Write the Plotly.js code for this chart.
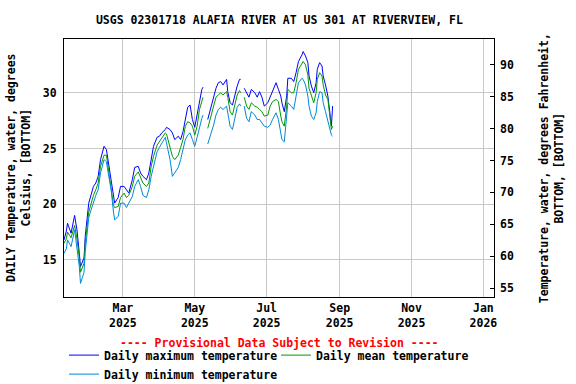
<!DOCTYPE html>
<html>
<head>
<meta charset="utf-8">
<script src="https://cdn.plot.ly/plotly-3.0.1.min.js"></script>
<style>
  body { margin: 0; background: #fff; }
  #plot { width: 576px; height: 384px; }
</style>
</head>
<body>
<div id="plot"></div>
<script>
// daily values (deg C), null = missing record
var dates = [
  "2025-01-10", "2025-01-12", "2025-01-13", "2025-01-16", "2025-01-19", "2025-01-21",
  "2025-01-23", "2025-01-24", "2025-01-27", "2025-01-28", "2025-01-31", "2025-02-02",
  "2025-02-04", "2025-02-06", "2025-02-08", "2025-02-10", "2025-02-13", "2025-02-15",
  "2025-02-17", "2025-02-19", "2025-02-21", "2025-02-22", "2025-02-25", "2025-02-27",
  "2025-03-02", "2025-03-04", "2025-03-06", "2025-03-09", "2025-03-11", "2025-03-14",
  "2025-03-16", "2025-03-18", "2025-03-21", "2025-03-23", "2025-03-25", "2025-03-27",
  "2025-03-30", "2025-04-01", "2025-04-03", "2025-04-06", "2025-04-07", "2025-04-10",
  "2025-04-12", "2025-04-14", "2025-04-17", "2025-04-19", "2025-04-21", "2025-04-23",
  "2025-04-25", "2025-04-27", "2025-04-29", "2025-05-01", "2025-05-03", "2025-05-05",
  "2025-05-07", "2025-05-08", "2025-05-10", "2025-05-12", "2025-05-15", "2025-05-17",
  "2025-05-19", "2025-05-21", "2025-05-23", "2025-05-25", "2025-05-28", "2025-05-29",
  "2025-05-31", "2025-06-02", "2025-06-04", "2025-06-06", "2025-06-08", "2025-06-09",
  "2025-06-10", "2025-06-12", "2025-06-14", "2025-06-16", "2025-06-18", "2025-06-21",
  "2025-06-23", "2025-06-25", "2025-06-27", "2025-06-29", "2025-07-02", "2025-07-04",
  "2025-07-06", "2025-07-09", "2025-07-11", "2025-07-13", "2025-07-14", "2025-07-16",
  "2025-07-18", "2025-07-19", "2025-07-22", "2025-07-24", "2025-07-26", "2025-07-28",
  "2025-07-31", "2025-08-01", "2025-08-03", "2025-08-05", "2025-08-06", "2025-08-08",
  "2025-08-10", "2025-08-12", "2025-08-13", "2025-08-15", "2025-08-17", "2025-08-18",
  "2025-08-20", "2025-08-22", "2025-08-24", "2025-08-25", "2025-08-26"
];

var tMax = [
  16.8, 17.6, 18.3, 17.4, 19.0, 17.7, 15.6, 14.4, 15.2, 17.1, 20.1, 20.8,
  21.6, 21.9, 22.5, 24.0, 25.2, 24.9, 23.4, 22.2, 20.6, 20.1, 20.6, 21.6,
  21.6, 21.3, 21.0, 22.2, 23.3, 23.4, 22.8, 22.5, 22.2, 22.8, 24.0, 25.2,
  26.0, 26.1, 26.4, 26.7, 26.9, 26.7, 26.4, 25.8, 26.1, 25.8, 26.5, 27.7,
  28.7, 28.9, 27.6, 26.9, 28.0, 29.4, 30.3, 30.5, null, 27.6, 28.9, 29.7,
  30.4, 30.9, 31.0, 30.7, 31.2, 30.1, 29.1, 28.9, 29.8, 30.6, 31.2, 31.2,
  null, 30.4, 30.0, 29.6, 30.3, 30.0, 29.6, 30.1, 29.6, 28.8, 29.1, 29.6,
  30.1, 30.9, 30.3, 29.7, 29.1, 28.3, 29.7, 31.3, 31.3, 31.0, 31.8, 32.8,
  33.4, 33.7, 33.3, 32.7, 31.5, 30.6, 30.0, 30.9, 32.1, 32.7, 32.4, 31.5,
  30.7, 29.7, 27.9, 27.0, 28.8
];

var tMean = [
  16.5, 16.9, 17.5, 17.0, 18.1, 16.9, 15.2, 13.9, 14.7, 16.5, 19.3, 20.1,
  20.8, 21.3, 21.9, 23.4, 24.4, 24.4, 22.9, 21.7, 19.9, 19.7, 19.8, 20.6,
  21.0, 20.6, 20.8, 21.6, 22.5, 22.9, 22.3, 21.9, 21.6, 21.9, 23.4, 24.3,
  25.3, 25.6, 26.0, 26.4, 26.3, 25.1, 24.3, 24.0, 24.4, 25.1, 25.8, 27.0,
  27.4, 27.3, 27.0, 26.2, 27.0, 28.5, 29.2, 29.6, null, 26.8, 27.9, 28.7,
  29.6, 29.8, 30.0, 29.8, 30.1, 29.6, 28.3, 28.0, 28.9, 29.8, 30.2, 30.0,
  null, 29.6, 28.8, 28.5, 29.1, 28.8, 28.7, 28.5, 28.3, 27.9, 28.0, 28.8,
  29.2, 29.4, 29.2, 27.9, 27.4, 27.0, 28.8, 30.3, 30.0, 30.0, 30.9, 32.1,
  32.7, 32.8, 32.5, 31.6, 30.4, 29.7, 29.1, 30.0, 31.2, 31.8, 31.5, 30.7,
  29.8, 29.4, 27.3, 26.7, 27.0
];

var tMin = [
  15.6, 16.0, 16.8, 16.2, 17.7, 16.2, 14.4, 12.9, 13.9, 15.7, 18.8, 19.5,
  20.2, 20.8, 21.3, 22.8, 24.0, 23.8, 22.5, 21.3, 19.3, 18.6, 18.9, 20.1,
  20.1, 19.7, 20.1, 20.7, 21.6, 22.2, 21.6, 20.8, 20.6, 21.3, 22.5, 23.4,
  24.7, 25.1, 25.5, 26.0, 25.5, 24.0, 22.5, 22.8, 23.3, 24.0, 24.9, 25.8,
  26.2, 26.4, 25.8, 25.2, 26.0, 27.0, 27.7, 28.0, null, 25.4, 26.4, 27.1,
  28.0, 28.5, 28.7, 28.5, 28.8, 28.2, 27.0, 26.7, 27.6, 28.7, 29.0, 28.8,
  null, 28.8, 27.7, 27.4, 28.3, 28.0, 27.6, 27.6, 27.3, 27.0, 26.9, 27.1,
  27.6, 28.2, 27.6, 26.4, 25.8, 25.6, 27.9, 29.1, 28.8, 28.5, 29.7, 30.9,
  31.3, 31.2, 30.7, 29.7, 28.8, 27.9, 27.6, 28.2, 29.2, 30.1, 30.0, 29.1,
  28.3, 27.4, 26.5, 26.2, 26.1
];

var xTickVals = ["2025-03-01", "2025-05-01", "2025-07-01", "2025-09-01", "2025-11-01", "2026-01-01"];
var xTickText = ["Mar<br>2025", "May<br>2025", "Jul<br>2025", "Sep<br>2025", "Nov<br>2025", "Jan<br>2026"];
var cTicks = [15, 20, 25, 30];
var fTicks = [55, 60, 65, 70, 75, 80, 85, 90];

var mono = {family: "DejaVu Sans Mono, monospace", size: 11.5, color: "#000", weight: "bold"};

var traces = [
  {x: dates, y: tMax, type: "scatter", mode: "lines", name: "Daily maximum temperature",
   line: {color: "#0000ff", width: 1}, connectgaps: false},
  {x: dates, y: tMean, type: "scatter", mode: "lines", name: "Daily mean temperature",
   line: {color: "#009900", width: 1}, connectgaps: false},
  {x: dates, y: tMin, type: "scatter", mode: "lines", name: "Daily minimum temperature",
   line: {color: "#0088dd", width: 1}, connectgaps: false},
  // empty trace so the Fahrenheit axis gets drawn
  {x: [null], y: [null], yaxis: "y2", type: "scatter", mode: "lines",
   showlegend: false, hoverinfo: "skip"}
];

var layout = {
  width: 576, height: 384,
  margin: {l: 64, r: 82, t: 39, b: 87, autoexpand: false},
  paper_bgcolor: "#fff", plot_bgcolor: "#fff",
  font: mono,
  showlegend: true,
  title: {text: "USGS 02301718 ALAFIA RIVER AT US 301 AT RIVERVIEW, FL",
          font: mono, x: 0.485, xanchor: "center", y: 0.948, yanchor: "middle"},
  xaxis: {
    type: "date", range: ["2025-01-10", "2026-01-10"],
    tickvals: xTickVals, ticktext: xTickText, ticks: "",
    showgrid: true, gridcolor: "#c8c8c8", gridwidth: 1,
    showline: true, linecolor: "#000", linewidth: 1, mirror: true,
    zeroline: false, tickfont: mono
  },
  yaxis: {
    range: [11.68, 34.82], tickvals: cTicks, ticks: "", ticklabelstandoff: 4,
    showgrid: true, gridcolor: "#c8c8c8", gridwidth: 1,
    showline: true, linecolor: "#000", linewidth: 1, mirror: true,
    zeroline: false, tickfont: mono
  },
  yaxis2: {
    overlaying: "y", side: "right", range: [53.65, 94.0],
    tickvals: fTicks, ticks: "inside", ticklen: 4, tickcolor: "#000", ticklabelstandoff: 5,
    showgrid: false, zeroline: false, showline: false, tickfont: mono
  },
  legend: {
    orientation: "h", x: 0, xanchor: "left", y: -0.169, yanchor: "top",
    font: mono, entrywidth: 167, tracegroupgap: 0, itemwidth: 30
  },
  annotations: [
    {text: "---- Provisional Data Subject to Revision ----", xref: "paper", yref: "paper",
     x: 0.5, y: -0.177, xanchor: "center", yanchor: "middle", showarrow: false,
     font: {family: mono.family, size: 11.5, color: "#ff0000", weight: "bold"}},
    {text: "DAILY Temperature, water, degrees<br>Celsius, [BOTTOM]", xref: "paper", yref: "paper",
     x: -0.107, y: 0.5, xanchor: "center", yanchor: "middle", textangle: -90, showarrow: false,
     font: mono},
    {text: "Temperature, water, degrees Fahrenheit,<br>BOTTOM, [BOTTOM]", xref: "paper", yref: "paper",
     x: 1.133, y: 0.5, xanchor: "center", yanchor: "middle", textangle: -90, showarrow: false,
     font: mono}
  ]
};

Plotly.newPlot("plot", traces, layout, {staticPlot: true});
</script>
</body>
</html>
